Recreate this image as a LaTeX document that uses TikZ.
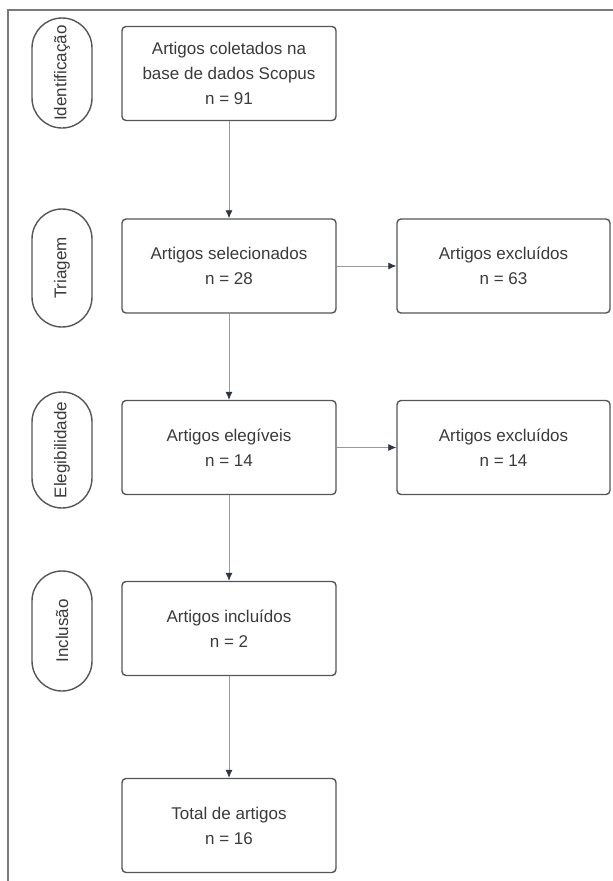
\documentclass[tikz,border=0pt]{standalone}
\usepackage{fontspec}
\setmainfont{Liberation Sans}
\usetikzlibrary{positioning,arrows.meta}
\definecolor{borda}{HTML}{555555}
\definecolor{texto}{HTML}{3A3A3A}
\definecolor{linha}{HTML}{9A9A9A}
\definecolor{ponta}{HTML}{2E3547}
\definecolor{moldura}{HTML}{7A7A7A}
\tikzset{
  caixa/.style={draw=borda, line width=1.4pt, rounded corners=4pt,
    minimum width=214pt, minimum height=94pt, align=center,
    text=texto, font=\fontsize{17}{25}\selectfont},
  fase/.style={draw=borda, line width=1.4pt, rounded corners=30pt,
    minimum height=60pt, rotate=90, text=texto,
    font=\fontsize{17}{20}\selectfont},
  seta/.style={draw=linha, line width=0.8pt,
    -{Latex[length=8pt,width=7pt,color=ponta]}}
}
\begin{document}
\begin{tikzpicture}[x=1pt,y=-1pt]
\useasboundingbox (0,0) rectangle (613,881);
% moldura
\draw[moldura, line width=1.5pt] (613,10) -- (8,10) -- (8,881);

% fases
\node[fase, minimum width=110pt] (ident) at (62,73) {Identificação};
\node[fase, minimum width=118pt] (triagem) at (62,268) {Triagem};
\node[fase, minimum width=116pt] (eleg) at (62,450) {Elegibilidade};
\node[fase, minimum width=120pt] (inclusao) at (62,631) {Inclusão};

% caixas
\node[caixa] (coletados) at (229,73.5) {Artigos coletados na\\base de dados Scopus\\n = 91};
\node[caixa] (selec) at (229,266) {Artigos selecionados\\n = 28};
\node[caixa, minimum width=213pt] (excl1) at (503.5,266) {Artigos excluídos\\n = 63};
\node[caixa] (elegiveis) at (229,447.5) {Artigos elegíveis\\n = 14};
\node[caixa, minimum width=213pt] (excl2) at (503.5,447.5) {Artigos excluídos\\n = 14};
\node[caixa] (incluidos) at (229,628.5) {Artigos incluídos\\n = 2};
\node[caixa] (total) at (229,825.5) {Total de artigos\\n = 16};

% setas
\draw[seta] (coletados) -- (selec);
\draw[seta] (selec) -- (excl1);
\draw[seta] (selec) -- (elegiveis);
\draw[seta] (elegiveis) -- (excl2);
\draw[seta] (elegiveis) -- (incluidos);
\draw[seta] (incluidos) -- (total);
\end{tikzpicture}
\end{document}
